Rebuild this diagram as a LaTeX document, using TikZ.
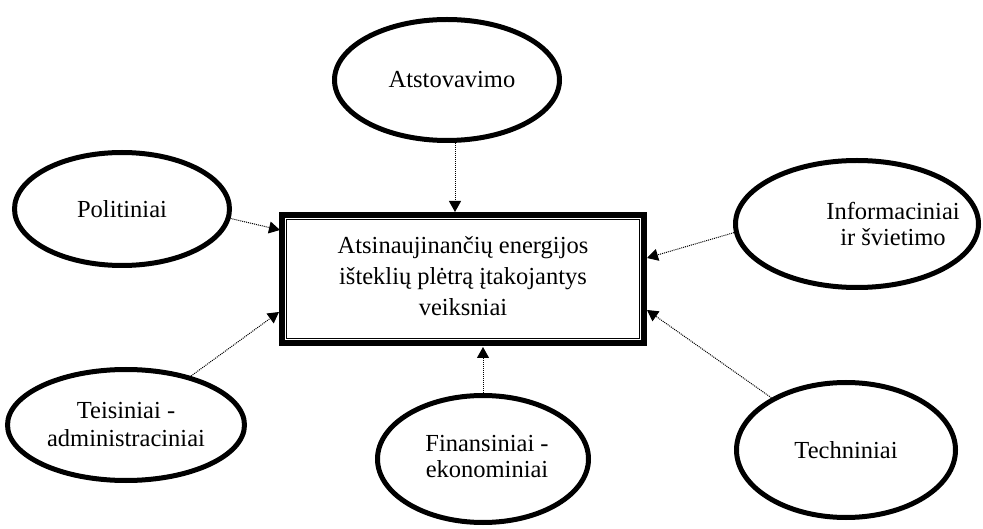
\documentclass[tikz,border=0pt]{standalone}
\usepackage{fontspec}
\setmainfont{Liberation Serif}
\usetikzlibrary{shapes.geometric,arrows.meta,calc}
\begin{document}
\begin{tikzpicture}[x=1pt,y=-1pt,
  oval/.style={ellipse, draw, line width=5pt, inner sep=0pt, align=center,
    font=\fontsize{24.5}{28}\selectfont},
  label text/.style={align=center, inner sep=0pt, font=\fontsize{24.5}{26}\selectfont},
  conn/.style={line width=1pt, dash pattern=on 1pt off 1pt,
    -{Triangle[length=11pt,width=12pt]}},
  mainbox/.style={draw, line width=6pt, inner sep=0pt},
  innerframe/.style={double, line width=0.9pt, double distance=1.3pt},
  maintext/.style={align=center, font=\fontsize{24.5}{31}\selectfont}
  ]
\useasboundingbox (0,0) rectangle (983,529);

% central box
\node[mainbox, minimum width=362pt, minimum height=128pt] (box) at (463,279) {};
\draw[innerframe] ($(box.north west)+(6.5,6.5)$) rectangle ($(box.south east)+(-6.5,-6.5)$);
\node[maintext] (boxtext) at (463,276) {Atsinaujinančių energijos\\išteklių plėtrą įtakojantys\\veiksniai};

% ellipses
\node[oval, minimum width=225pt, minimum height=121pt] (atst) at (447,80) {};
\node[label text] (atsttext) at (452,80) {Atstovavimo};
\node[oval, minimum width=215pt, minimum height=113pt] (polit) at (122,209) {Politiniai};
\node[oval, minimum width=243pt, minimum height=127pt] (inform) at (857,224) {};
\node[label text] (informtext) at (893,224) {Informaciniai\\ir švietimo};
\node[oval, minimum width=237pt, minimum height=111pt] (teis) at (126,425) {Teisiniai -\\administraciniai};
\node[oval, minimum width=211pt, minimum height=127pt] (finans) at (483,459) {};
\node[label text] (finanstext) at (487,457) {Finansiniai -\\ekonominiai};
\node[oval, minimum width=219pt, minimum height=135pt] (tech) at (846,450) {Techniniai};

% arrow tips on the box
\coordinate (tA) at (455,212);
\coordinate (tP) at (280,230);
\coordinate (tI) at (647,258);
\coordinate (tT) at (647,310);
\coordinate (tS) at (279,312);
\coordinate (tF) at (483,347);

\draw[conn] (atst.south -| tA) -- (tA);
\draw[conn] (polit.-5) -- (tP);
\draw[conn] (inform.184) -- (tI);
\draw[conn] (tech.145) -- (tT);
\draw[conn] (teis.37) -- (tS);
\draw[conn] (finans.north) -- (tF);
\end{tikzpicture}
\end{document}
